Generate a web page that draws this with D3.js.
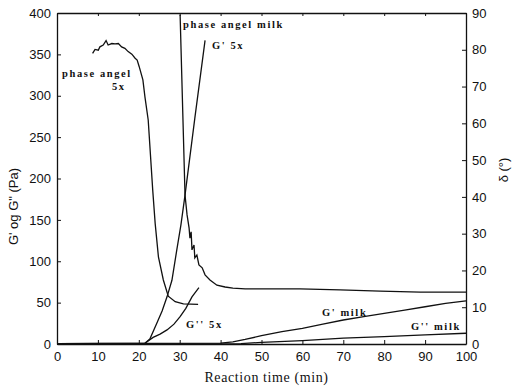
<!DOCTYPE html>
<html lang="en">
<head>
<meta charset="utf-8">
<title>Rheology</title>
<script src="https://d3js.org/d3.v7.min.js"></script>
<style>
  body { margin: 0; background: #fff; }
  .tick text { font-family: "Liberation Sans", Arial, sans-serif; font-size: 13px; fill: #111; }
  .ann { font-family: "Liberation Serif", "DejaVu Serif", serif; font-size: 10.5px; font-weight: bold; fill: #111; letter-spacing: 1.6px; }
  .title { font-family: "Liberation Serif", "DejaVu Serif", serif; font-size: 14px; fill: #111; }
  .ytitle { font-family: "Liberation Sans", Arial, sans-serif; font-size: 13px; fill: #111; }
</style>
</head>
<body>
<div id="chart"></div>
<script>
var xTicks = [0, 10, 20, 30, 40, 50, 60, 70, 80, 90, 100];
var gTicks = [0, 50, 100, 150, 200, 250, 300, 350, 400];
var dTicks = [0, 10, 20, 30, 40, 50, 60, 70, 80, 90];

// [time, delta] right axis
var phase5x = [[8.7,79.0],[9.3,80.1],[10.1,79.9],[10.5,80.8],[11.3,81.3],[12.0,82.5],[12.5,81.3],
  [13.4,81.7],[14.2,81.6],[15.0,81.7],[15.8,80.8],[16.6,80.4],[17.4,79.5],[18.3,78.8],[19.1,77.7],
  [19.6,77.2],[20.1,75.4],[21.0,71.8],[21.5,67.2],[22.3,60.9],[23.4,41.9],[24.0,32.8],[24.8,23.7],
  [26.0,17.4],[27.2,13.0],[28.9,11.5],[30.9,10.9],[34.5,10.8]];
var phaseMilk = [[30.1,89.5],[30.8,60.9],[31.3,40.5],[31.8,35.1],[32.3,31.5],[32.5,28.8],[32.8,30.5],
  [33.0,25.6],[33.5,26.9],[33.7,23.4],[34.2,24.2],[34.7,21.5],[35.5,20.7],[36.2,18.8],[37.4,17.4],
  [39.1,16.0],[41.1,15.5],[43.0,15.2],[46.0,15.0],[49.6,15.0],[59.4,15.0],[69.2,14.7],[79.0,14.4],
  [88.8,14.1],[100,14.1]];
// [time, G] left axis
var gp5x = [[0,0.5],[21.5,1],[22.7,6],[24.4,25],[25.7,40],[26.9,57],[28.1,77],[29.3,114],[30.3,144],
  [31.3,180],[33.7,273],[36.2,367]];
var gpp5x = [[21.5,1],[23.5,8],[25.2,12],[26.9,17],[28.6,24],[30.1,33],[31.5,43],[33.0,57],[34.7,68]];
var gpMilk = [[0,0.5],[40,1],[43,2.5],[46,5.5],[50,10],[55,15],[60,19],[65,24],[70,29],[75,33],[80,37],
  [85,41],[90,45],[95,49],[100,52]];
var gppMilk = [[0,0],[45,0.5],[50,2],[60,4],[70,7],[80,9],[90,11],[100,13]];

var W = 519, H = 387;
var mLeft = 57, mRight = 466, mTop = 13, mBottom = 344;

var svg = d3.select("#chart").append("svg").attr("width", W).attr("height", H);

var x = d3.scaleLinear().domain([0, 100]).range([mLeft, mRight]);
var yG = d3.scaleLinear().domain([0, 400]).range([mBottom, mTop]);
var yD = d3.scaleLinear().domain([0, 90]).range([mBottom, mTop]);

svg.append("g").attr("transform", "translate(0," + mBottom + ")")
  .call(d3.axisBottom(x).tickValues(xTicks).tickSizeInner(-4).tickSizeOuter(0).tickPadding(8));
svg.append("g").attr("transform", "translate(0," + mTop + ")")
  .call(d3.axisTop(x).tickValues(xTicks).tickSizeInner(-3).tickSizeOuter(0).tickFormat(""));
svg.append("g").attr("transform", "translate(" + mLeft + ",0)")
  .call(d3.axisLeft(yG).tickValues(gTicks).tickSizeInner(-4).tickSizeOuter(0).tickPadding(6));
svg.append("g").attr("transform", "translate(" + mRight + ",0)")
  .call(d3.axisRight(yD).tickValues(dTicks).tickSizeInner(-4).tickSizeOuter(0).tickPadding(6));

svg.selectAll(".domain").attr("stroke", "#111").attr("stroke-width", 1.3);
svg.selectAll(".tick line").attr("stroke", "#111");

var lineG = d3.line().x(function(d) { return x(d[0]); }).y(function(d) { return yG(d[1]); });
var lineD = d3.line().x(function(d) { return x(d[0]); }).y(function(d) { return yD(d[1]); });

[gp5x, gpp5x, gpMilk, gppMilk].forEach(function(s) {
  svg.append("path").datum(s).attr("d", lineG)
    .attr("fill", "none").attr("stroke", "#111").attr("stroke-width", 1.3);
});
[phase5x, phaseMilk].forEach(function(s) {
  svg.append("path").datum(s).attr("d", lineD)
    .attr("fill", "none").attr("stroke", "#111").attr("stroke-width", 1.3);
});

var anns = [
  ["phase angel", 62, 77],
  ["5x", 112, 90],
  ["phase angel milk", 183, 28],
  ["G' 5x", 212, 49],
  ["G'' 5x", 186, 328],
  ["G' milk", 322, 316],
  ["G'' milk", 411, 330]
];
svg.selectAll(".ann").data(anns).enter().append("text")
  .attr("class", "ann")
  .attr("x", function(d) { return d[1]; })
  .attr("y", function(d) { return d[2]; })
  .text(function(d) { return d[0]; });

svg.append("text").attr("class", "title")
  .attr("x", (mLeft + mRight) / 2 + 5).attr("y", 382)
  .attr("text-anchor", "middle").attr("letter-spacing", 0.6)
  .text("Reaction time (min)");

svg.append("text").attr("class", "ytitle")
  .attr("transform", "translate(18," + ((mTop + mBottom) / 2 + 28) + ") rotate(-90)")
  .attr("text-anchor", "middle")
  .text("G' og G\" (Pa)");

svg.append("text").attr("class", "ytitle")
  .attr("transform", "translate(508,170) rotate(-90)")
  .attr("text-anchor", "middle")
  .text("δ (°)");
</script>
</body>
</html>
